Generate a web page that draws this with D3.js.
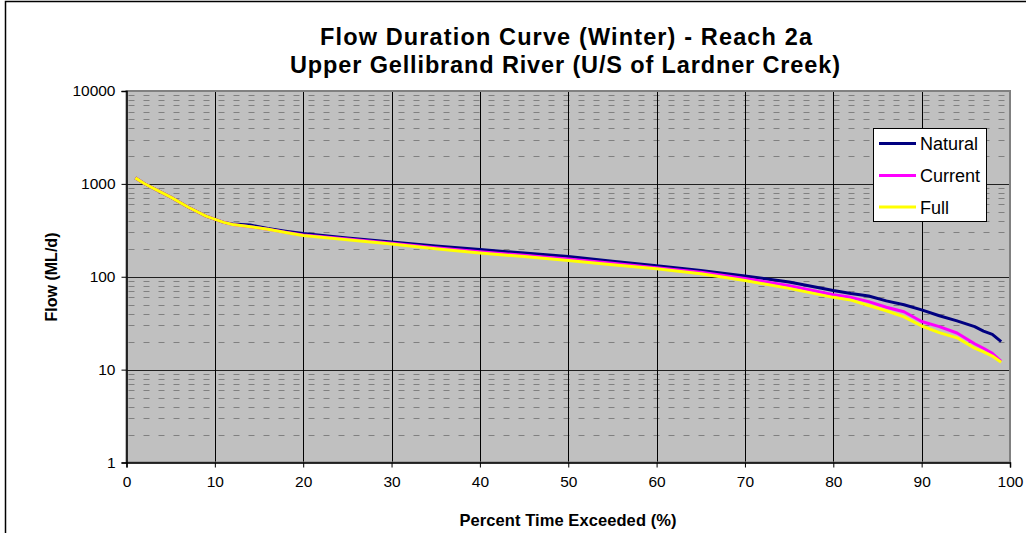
<!DOCTYPE html>
<html><head><meta charset="utf-8">
<script src="https://d3js.org/d3.v7.min.js"></script>
<style>
body{margin:0;background:#fff;}
svg{display:block;font-family:"Liberation Sans",Arial,sans-serif;}
</style></head>
<body><svg id="chart" width="1026" height="533"></svg>
<script>
const titleLines = ["Flow Duration Curve (Winter) - Reach 2a", "Upper Gellibrand River (U/S of Lardner Creek)"];
const xTitle = "Percent Time Exceeded (%)";
const yTitle = "Flow (ML/d)";
const seriesNames = ["Natural", "Current", "Full"];
const seriesColors = ["#000080", "#FF00FF", "#FFFF00"];
const xTicks = [0,10,20,30,40,50,60,70,80,90,100];
const yTicks = [1,10,100,1000,10000];

const pct = [1,2,3,5,7,9,11,12,14,16,18,20,25,30,35,40,45,50,55,60,65,70,75,80,82,84,86,88,90,92,94,96,97,98,99];
const natural = [1160,1010,900,720,560,450,385,370,360,330,310,292,262,237,215,196,180,165,147,131,117,102,88,71,66,62,55,50,44,38,33.5,29,26,24,20];
const current = [1160,1010,900,720,560,450,385,365,345,325,302,282,255,230,205,186,170,155,140,125,112,96,80,64,60,54,47,42,33,29,24.8,19,17,15,12.3];
const full    = [1160,1010,900,720,560,450,385,365,345,325,300,278,250,225,200,180,165,150,135,122,108,91,75,60,56,49,43,37,29.5,25,22,17,15.5,14,12];
const seriesValues = [natural, current, full];

const svg = d3.select("#chart");
const L = 126.5, R = 1010, T = 91, B = 462.5;

// outer frame
svg.append("rect").attr("x",5.5).attr("y",1.5).attr("width",1100).attr("height",600)
  .attr("fill","#fff").attr("stroke","#000").attr("stroke-width",1.5);

const x = d3.scaleLinear().domain([0,100]).range([L,R]);
const y = d3.scaleLog().domain([1,10000]).range([B,T]);

svg.append("rect").attr("x",L).attr("y",T).attr("width",R-L).attr("height",B-T).attr("fill","#C0C0C0");

// minor gridlines
const minor = [];
[1,10,100,1000].forEach(d => { for(let k=2;k<=9;k++) minor.push(d*k); });
svg.append("g").selectAll("line").data(minor).join("line")
  .attr("x1",L).attr("x2",R).attr("y1",d=>Math.round(y(d))+0.5).attr("y2",d=>Math.round(y(d))+0.5)
  .attr("stroke","#808080").attr("stroke-width",1).attr("stroke-dasharray","6,9")
  .attr("stroke-dashoffset",-2);

// major gridlines
svg.append("g").selectAll("line").data([10,100,1000]).join("line")
  .attr("x1",L).attr("x2",R).attr("y1",d=>Math.round(y(d))+0.5).attr("y2",d=>Math.round(y(d))+0.5)
  .attr("stroke","#202020").attr("stroke-width",1);
svg.append("g").selectAll("line").data(xTicks.slice(1,-1)).join("line")
  .attr("y1",T).attr("y2",B).attr("x1",d=>Math.round(x(d))+0.5).attr("x2",d=>Math.round(x(d))+0.5)
  .attr("stroke","#000").attr("stroke-width",1);

// plot border
svg.append("rect").attr("x",L).attr("y",T).attr("width",R-L).attr("height",B-T)
  .attr("fill","none").attr("stroke","#808080").attr("stroke-width",2);

// series
const line = d3.line().x((d,i)=>x(pct[i])).y(d=>y(d));
seriesValues.forEach((vals,si) => {
  svg.append("path").datum(vals).attr("d",line).attr("fill","none")
    .attr("stroke",seriesColors[si]).attr("stroke-width",3).attr("stroke-linejoin","round");
});

// axes
const xAxis = d3.axisBottom(x).tickValues(xTicks).tickSize(5).tickPadding(8).tickFormat(d3.format("d"));
const gx = svg.append("g").attr("transform",`translate(0,${B})`).call(xAxis);
const yAxis = d3.axisLeft(y).tickValues(yTicks).tickSize(5).tickPadding(6).tickFormat(d3.format("d"));
const gy = svg.append("g").attr("transform",`translate(${L},0)`).call(yAxis);
[gx,gy].forEach(g => {
  g.select(".domain").attr("stroke","#000").attr("stroke-width",1.5);
  g.selectAll(".tick line").attr("stroke","#000");
  g.selectAll("text").attr("font-size",15.5).attr("fill","#000").attr("font-family","Liberation Sans, Arial, sans-serif");
});

// titles
svg.append("text").attr("x",566).attr("y",45).attr("text-anchor","middle")
  .attr("font-size",23.5).attr("font-weight","bold").attr("textLength",492).attr("lengthAdjust","spacing")
  .text(titleLines[0]);
svg.append("text").attr("x",565).attr("y",73).attr("text-anchor","middle")
  .attr("font-size",23.5).attr("font-weight","bold").attr("textLength",550).attr("lengthAdjust","spacing")
  .text(titleLines[1]);
svg.append("text").attr("x",568).attr("y",526).attr("text-anchor","middle")
  .attr("font-size",16.5).attr("font-weight","bold").attr("textLength",217).attr("lengthAdjust","spacing")
  .text(xTitle);
svg.append("text").attr("transform","translate(57,277) rotate(-90)").attr("text-anchor","middle")
  .attr("font-size",16).attr("font-weight","bold").attr("textLength",89).attr("lengthAdjust","spacing")
  .text(yTitle);

// legend
const lg = svg.append("g");
lg.append("rect").attr("x",873.5).attr("y",128.5).attr("width",113).attr("height",93)
  .attr("fill","#fff").attr("stroke","#000").attr("stroke-width",1);
const rows = [143.5,175.5,207];
seriesNames.forEach((n,i) => {
  lg.append("line").attr("x1",879).attr("x2",916).attr("y1",rows[i]).attr("y2",rows[i])
    .attr("stroke",seriesColors[i]).attr("stroke-width",3);
  lg.append("text").attr("x",920).attr("y",rows[i]+6.5).attr("font-size",18).text(n);
});
</script></body></html>
